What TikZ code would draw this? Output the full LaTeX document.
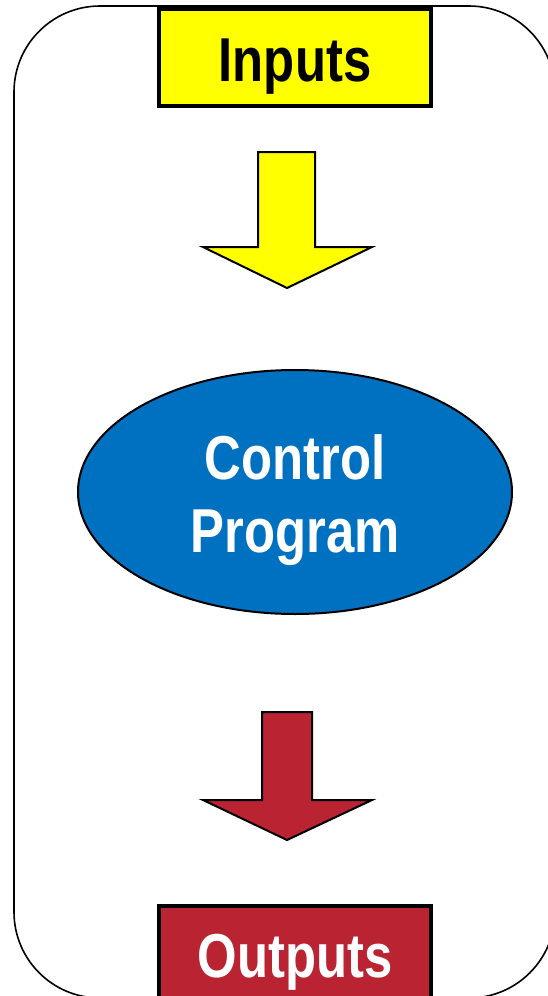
\documentclass[tikz,border=0pt]{standalone}
\usepackage{fontspec}
\newfontfamily\labfont{Liberation Sans}[FakeStretch=0.82]
\definecolor{inyellow}{HTML}{FFFF00}
\definecolor{progblue}{HTML}{0070C0}
\definecolor{outred}{HTML}{BA2332}
\usetikzlibrary{shapes.geometric}
\tikzset{
  frame/.style={draw=black, line width=1.6pt, rounded corners=86pt},
  iobox/.style={draw=black, line width=4pt, rectangle, minimum width=272pt, minimum height=97pt, inner sep=0pt},
  lab/.style={font=\labfont\bfseries\fontsize{62}{72}\selectfont, anchor=base, inner sep=0pt},
  blockarrow/.style={draw=black, line width=2pt, line join=miter},
  prog/.style={ellipse, draw=black, line width=2pt, fill=progblue, minimum width=434pt, minimum height=244pt, inner sep=0pt}
}
\begin{document}
\begin{tikzpicture}[x=1pt,y=-1pt]
\useasboundingbox (0,0) rectangle (547,996);
\draw[frame] (14,6) rectangle (555,998);
% inputs
\node[iobox, fill=inyellow] (inputs) at (295,57) {};
\node[lab, text=black] (inputstext) at (295,81) {Inputs};
% yellow arrow
\draw[blockarrow, fill=inyellow] (258,152) -- (315,152) -- (315,247) -- (372,247) -- (287,288) -- (203,247) -- (258,247) -- cycle;
% control program
\node[prog] (program) at (295,492) {};
\node[lab, text=white] (ctrltext) at (295,479) {Control};
\node[lab, text=white] (progtext) at (295,552) {Program};
% red arrow
\draw[blockarrow, fill=outred] (262,712) -- (312,712) -- (312,800) -- (372,800) -- (287,840) -- (203,800) -- (262,800) -- cycle;
% outputs
\node[iobox, fill=outred, anchor=north] (outputs) at (295,904) {};
\node[lab, text=white] (outputstext) at (295,977) {Outputs};
\end{tikzpicture}
\end{document}
